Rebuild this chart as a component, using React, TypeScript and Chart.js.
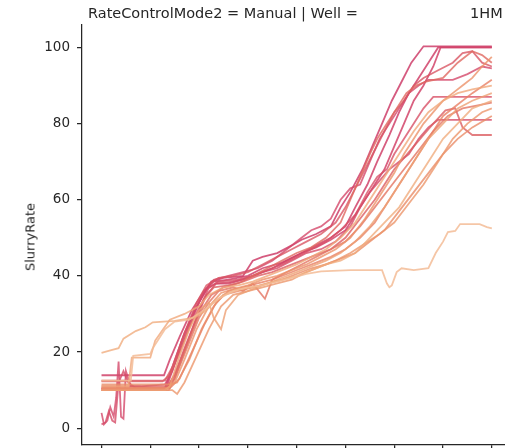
import React, { useEffect, useRef } from "react";
import { Chart, registerables } from "chart.js";

Chart.register(...registerables);

type P = [number, number];

// x: normalised time (tick index 0..8), y: SlurryRate
const s01: P[] = [[0,10.5],[1.3,10.5],[1.45,16],[1.7,25],[2.0,33],[2.25,38.5],[2.5,39.5],[2.9,40],[3.1,44],[3.3,45],[3.6,46],[3.9,48],[4.1,49.5],[4.4,51],[4.7,53],[4.9,58],[5.1,62],[5.35,68],[5.55,74],[5.75,80],[5.95,86],[6.15,91],[6.35,96],[6.6,100.3],[8,100.3]];
const s02: P[] = [[0,13.9],[1.28,13.9],[1.4,18],[1.6,24],[1.85,31],[2.1,36],[2.3,38.5],[2.6,39],[3.0,40],[3.3,42],[3.7,43.5],[4.1,46],[4.4,48],[4.7,50],[5.0,53],[5.2,58],[5.45,64],[5.65,70],[5.9,77],[6.1,83],[6.3,88],[6.5,92],[6.7,96],[6.9,100],[8,100]];
const s03: P[] = [[0,4],[0.05,1],[0.12,2],[0.18,5.5],[0.25,3],[0.3,8],[0.35,17.5],[0.4,3],[0.45,2.5],[0.5,15],[0.55,13],[0.6,11],[0.8,11],[1.3,11.5],[1.45,15],[1.65,22],[1.9,30],[2.1,36],[2.3,39],[2.6,40],[2.9,41],[3.2,42],[3.5,44],[3.8,47],[4.1,50],[4.3,52],[4.5,53],[4.7,55],[4.9,60],[5.1,63],[5.3,64],[5.5,70],[5.7,76],[5.9,80],[6.1,84],[6.3,88],[6.5,90],[6.7,91.5],[7.2,91.5],[7.5,93],[7.8,95],[8,94.5]];
const s04: P[] = [[0,1],[0.08,1.5],[0.15,4.5],[0.22,2],[0.28,1.5],[0.35,12],[0.45,15],[0.55,12],[0.7,10.5],[1.35,10.5],[1.5,14],[1.7,21],[1.95,29],[2.15,35],[2.35,38],[2.7,38.5],[3.0,39.5],[3.3,41],[3.6,42],[3.9,44],[4.2,46],[4.5,47],[4.8,49],[5.1,53],[5.3,58],[5.5,62],[5.7,65],[5.9,68],[6.1,70],[6.3,72],[6.5,76],[6.7,79],[6.9,81],[8,81]];
const s05: P[] = [[0,10],[1.3,10],[1.5,13],[1.75,22],[2.0,31],[2.2,37],[2.4,38.5],[2.8,39],[3.1,40],[3.4,41.5],[3.7,43],[4.0,45],[4.3,47],[4.6,49],[4.9,52],[5.2,56],[5.45,62],[5.65,66],[5.85,68],[6.0,72],[6.2,76],[6.4,80],[6.6,84],[6.8,87],[8,87]];
const s06: P[] = [[0,12.3],[1.25,12.3],[1.4,14],[1.6,20],[1.85,28],[2.1,34],[2.3,37],[2.6,37.5],[2.9,38.5],[3.2,40],[3.5,41],[3.8,42.5],[4.1,44],[4.4,45.5],[4.7,47],[5.0,50],[5.3,55],[5.6,60],[5.8,64],[6.0,68],[6.2,71],[6.4,74],[6.6,77],[6.8,80],[7.05,83.5],[7.25,84],[7.4,79],[7.6,77],[8,77]];
const s07: P[] = [[0,11],[1.35,11],[1.5,14],[1.75,22],[2.0,30],[2.25,35],[2.5,37],[2.8,38],[3.1,40],[3.4,42],[3.7,44],[4.0,46],[4.3,47.5],[4.6,50],[4.9,54],[5.1,60],[5.3,66],[5.5,72],[5.65,76],[5.85,80],[6.05,84],[6.25,88],[6.45,90],[6.65,91],[7.0,92],[7.3,96],[7.6,99],[7.8,98],[8,96]];
const s08: P[] = [[0,19.8],[0.2,20.5],[0.35,21],[0.45,23.5],[0.7,25.5],[0.9,26.5],[1.05,27.8],[1.5,28.2],[1.9,29],[2.1,30.5],[2.3,33],[2.5,35],[2.8,36.5],[3.1,37],[3.4,38],[3.7,39],[4.0,40],[4.3,41.5],[4.6,43],[4.9,44],[5.2,46],[5.5,50],[5.8,54],[6.1,58],[6.4,64],[6.7,70],[7.0,76],[7.3,80],[7.6,84],[8,86]];
const s09: P[] = [[0,12.5],[0.6,12.5],[0.65,19],[1.0,19.5],[1.05,21],[1.3,26],[1.5,28],[1.8,28.5],[2.1,31],[2.4,34],[2.7,36],[3.0,37],[3.3,37.5],[3.6,38.5],[3.9,39.5],[4.2,40.5],[4.5,41.2],[5.1,41.5],[5.75,41.5],[5.85,38],[5.9,37],[5.95,37.5],[6.05,41],[6.15,42],[6.4,41.5],[6.7,42],[6.85,46],[7.0,49],[7.1,51.5],[7.25,51.8],[7.35,53.6],[7.75,53.6],[7.9,52.8],[8,52.5]];
const s10: P[] = [[0,10.5],[1.4,10.5],[1.6,13],[1.85,20],[2.1,27],[2.35,33],[2.6,36],[2.9,37],[3.2,38],[3.5,39],[3.8,40.5],[4.1,42],[4.4,43.5],[4.7,45],[5.0,47],[5.3,50],[5.6,54],[5.9,60],[6.2,66],[6.5,72],[6.8,78],[7.0,82],[7.3,85],[7.6,88],[8,91.5]];
const s11: P[] = [[0,10],[1.45,10],[1.55,9],[1.7,12],[1.95,19],[2.2,26],[2.45,32],[2.7,35],[3.0,36],[3.3,37],[3.6,38],[3.9,39],[4.2,41],[4.5,42.5],[4.8,44],[5.1,46],[5.4,48.5],[5.7,51],[6.0,54],[6.3,59],[6.6,64],[6.9,70],[7.2,76],[7.5,80],[7.8,83],[8,84]];
const s12: P[] = [[0,10],[1.3,10],[1.4,11],[1.6,19],[1.8,26],[2.0,31],[2.2,33],[2.3,29],[2.45,26],[2.55,31],[2.8,35],[3.1,36.5],[3.4,38],[3.7,39.5],[4.0,41],[4.3,42.5],[4.6,44],[4.9,46],[5.2,49],[5.5,53],[5.8,58],[6.1,64],[6.4,70],[6.7,76],[7.0,80],[7.3,84],[7.6,86],[8,88]];
const s13: P[] = [[0,10.5],[1.35,10.5],[1.5,12],[1.7,18],[1.95,26],[2.2,32],[2.45,35.5],[2.7,36.5],[3.0,37.5],[3.3,39],[3.6,40],[3.9,41.5],[4.2,43],[4.5,45],[4.8,47],[5.1,50],[5.4,55],[5.7,61],[6.0,67],[6.2,72],[6.4,76],[6.6,80],[6.8,83],[7.0,86],[7.2,88],[7.4,90],[7.6,92],[7.8,95],[8,97.5]];
const s14: P[] = [[0,10.3],[1.32,10.3],[1.45,15],[1.65,23],[1.9,31],[2.15,36.5],[2.35,38],[2.6,38],[2.9,39],[3.2,40.5],[3.5,42],[3.8,44],[4.1,46],[4.4,47.5],[4.7,49.5],[5.0,52],[5.2,56],[5.4,60],[5.6,64],[5.8,68],[6.0,74],[6.2,80],[6.4,86],[6.6,90],[6.8,95],[6.95,100],[8,100]];
const s15: P[] = [[0,11.5],[1.4,11.5],[1.55,12],[1.8,18],[2.05,26],[2.3,32],[2.5,35],[2.8,36],[3.1,37],[3.4,38],[3.7,39],[4.0,40.5],[4.3,42],[4.6,43],[4.9,44.5],[5.2,46],[5.5,49],[5.8,52],[6.1,57],[6.4,62],[6.7,67],[7.0,72],[7.3,76],[7.6,79],[8,82]];
const s16: P[] = [[0,10],[1.38,10],[1.5,13],[1.75,21],[2.0,29],[2.2,33],[2.4,36],[2.7,37],[2.9,36],[3.1,38],[3.35,34],[3.5,39],[3.8,41],[4.1,43],[4.4,45],[4.7,47],[5.0,49],[5.3,53],[5.6,58],[5.9,63],[6.2,68],[6.5,73],[6.8,78],[7.1,82],[7.4,84],[8,85.5]];
const s17: P[] = [[0,11],[0.55,11],[0.62,18.5],[1.0,18.5],[1.1,23],[1.4,28.5],[1.7,30],[2.0,32],[2.2,35],[2.5,37],[2.8,37.5],[3.1,38.5],[3.4,40],[3.7,41.5],[4.0,43],[4.3,45],[4.6,47],[4.9,50],[5.2,54],[5.5,60],[5.8,66],[6.1,72],[6.4,78],[6.7,83],[7.0,86],[7.3,88],[7.6,89],[8,90]];
const s18: P[] = [[0,12.5],[1.3,12.5],[1.45,16],[1.7,25],[1.95,33],[2.15,37.5],[2.4,39.5],[2.7,40],[3.0,41],[3.3,43],[3.6,45],[3.9,47],[4.2,49],[4.5,51],[4.8,54],[5.0,58],[5.2,63],[5.4,68],[5.6,73],[5.8,78],[6.0,83],[6.2,86],[6.4,90],[6.6,92],[6.9,94],[7.2,96],[7.4,98.5],[7.6,99],[7.8,96],[8,95]];

// drawn light first, dark last
const seriesList: P[][] = [s09, s08, s17, s12, s11, s13, s15, s10, s16, s07, s06, s18, s05, s04, s03, s14, s02, s01];
const colorList: string[] = [
  "rgba(243,188,150,0.85)", "rgba(240,172,126,0.8)", "rgba(240,168,122,0.8)", "rgba(238,160,116,0.8)",
  "rgba(236,150,108,0.8)", "rgba(236,146,106,0.8)", "rgba(234,140,104,0.8)", "rgba(232,128,100,0.8)",
  "rgba(228,116,98,0.8)", "rgba(224,104,96,0.8)", "rgba(220,94,98,0.8)", "rgba(218,86,100,0.8)",
  "rgba(216,80,102,0.8)", "rgba(214,76,104,0.8)", "rgba(212,72,106,0.8)", "rgba(210,68,106,0.85)",
  "rgba(208,66,106,0.85)", "rgba(206,62,106,0.85)",
];

const xTicks = [0, 1, 2, 3, 4, 5, 6, 7, 8];
const yTicks = [0, 20, 40, 60, 80, 100];
const titleLeft = "RateControlMode2 = Manual | Well =";
const titleRight = "1HM";
const yLabel = "SlurryRate";

const TEXT = "#262626";
const FONT = '"DejaVu Sans", sans-serif';

export default function App() {
  const ref = useRef<HTMLCanvasElement | null>(null);

  useEffect(() => {
    if (!ref.current) return;
    const chart = new Chart(ref.current, {
      type: "line",
      data: {
        datasets: seriesList.map((s, i) => ({
          data: s.map(([x, y]) => ({ x, y })),
          borderColor: colorList[i],
          borderWidth: 1.8,
          pointRadius: 0,
          tension: 0,
        })),
      },
      options: {
        responsive: false,
        animation: false,
        layout: { padding: { top: 25, right: 0, left: 0, bottom: 0 } },
        plugins: { legend: { display: false }, tooltip: { enabled: false } },
        scales: {
          x: {
            type: "linear",
            min: -0.4,
            max: 8.27,
            afterFit: (s: any) => { s.height = 13; },
            ticks: { display: false },
            afterBuildTicks: (s: any) => { s.ticks = xTicks.map((v) => ({ value: v })); },
            grid: { drawOnChartArea: false, drawTicks: true, tickLength: 5, color: TEXT, lineWidth: 1.25 },
            border: { display: true, color: TEXT, width: 1.25 },
          },
          y: {
            min: -4.4,
            max: 105.9,
            afterFit: (s: any) => { s.width = 82; },
            afterBuildTicks: (s: any) => { s.ticks = yTicks.map((v) => ({ value: v })); },
            ticks: { color: TEXT, font: { family: FONT, size: 13.5 }, padding: 7 },
            grid: { drawOnChartArea: false, drawTicks: true, tickLength: 5, color: TEXT, lineWidth: 1.25 },
            border: { display: true, color: TEXT, width: 1.25 },
          },
        },
      },
    } as any);
    return () => chart.destroy();
  }, []);

  const titleStyle: React.CSSProperties = {
    position: "absolute",
    top: 6,
    fontFamily: FONT,
    fontSize: "14.5px",
    lineHeight: "14.5px",
    color: TEXT,
    whiteSpace: "nowrap",
  };

  return (
    <div style={{ position: "fixed", left: 0, top: 0, width: 505, height: 448, overflow: "hidden", background: "#fff" }}>
      <canvas ref={ref} width={505} height={460} style={{ display: "block" }} />
      <div style={{ ...titleStyle, left: 88 }}>{titleLeft}</div>
      <div style={{ ...titleStyle, left: 470 }}>{titleRight}</div>
      <div
        style={{
          position: "absolute",
          left: 30,
          top: 237,
          transform: "translate(-50%, -50%) rotate(-90deg)",
          fontFamily: FONT,
          fontSize: "13px",
          lineHeight: "13px",
          color: TEXT,
          whiteSpace: "nowrap",
        }}
      >
        {yLabel}
      </div>
    </div>
  );
}
